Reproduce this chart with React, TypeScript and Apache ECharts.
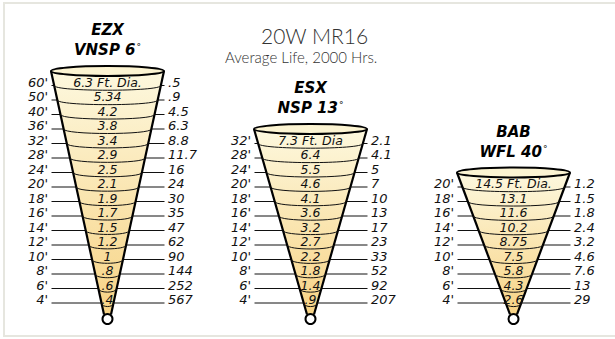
import React, { useEffect, useRef } from "react";
import * as echarts from "echarts";

// ---- data ----
const lampCodes = ["EZX", "ESX", "BAB"];
const beamTypes = ["VNSP", "NSP", "WFL"];
const beamAngles = [6, 13, 40];

const ezxDistance = [60, 50, 40, 36, 32, 28, 24, 20, 18, 16, 14, 12, 10, 8, 6, 4];
const ezxDiameter = [6.3, 5.34, 4.2, 3.8, 3.4, 2.9, 2.5, 2.1, 1.9, 1.7, 1.5, 1.2, 1, 0.8, 0.6, 0.4];
const ezxFootcandles = [0.5, 0.9, 4.5, 6.3, 8.8, 11.7, 16, 24, 30, 35, 47, 62, 90, 144, 252, 567];

const esxDistance = [32, 28, 24, 20, 18, 16, 14, 12, 10, 8, 6, 4];
const esxDiameter = [7.3, 6.4, 5.5, 4.6, 4.1, 3.6, 3.2, 2.7, 2.2, 1.8, 1.4, 0.9];
const esxFootcandles = [2.1, 4.1, 5, 7, 10, 13, 17, 23, 33, 52, 92, 207];

const babDistance = [20, 18, 16, 14, 12, 10, 8, 6, 4];
const babDiameter = [14.5, 13.1, 11.6, 10.2, 8.75, 7.5, 5.8, 4.3, 2.6];
const babFootcandles = [1.2, 1.5, 1.8, 2.4, 3.2, 4.6, 7.6, 13, 29];

const topSuffix = [" Ft. Dia.", " Ft. Dia", " Ft. Dia."];
const mainTitle = "20W MR16";
const subTitle = "Average Life, 2000 Hrs.";

// ---- derived tables ----
const coneSets = [
  { dist: ezxDistance, diam: ezxDiameter, fc: ezxFootcandles },
  { dist: esxDistance, diam: esxDiameter, fc: esxFootcandles },
  { dist: babDistance, diam: babDiameter, fc: babFootcandles },
];

type Meta = { dist: number; diam: number; fc: number; top: boolean; cone: number };
const rowData: number[][] = [];
const rowMeta: Meta[] = [];
coneSets.forEach((s, c) => {
  const n = s.dist.length;
  s.dist.forEach((d, i) => {
    rowData.push([c, n - 1 - i, n]);
    rowMeta.push({ dist: d, diam: s.diam[i], fc: s.fc[i], top: i === 0, cone: c });
  });
});
const coneData = coneSets.map((s, c) => [c, s.dist.length]);

const fmt = (v: number) => (v < 1 ? String(v).replace(/^0/, "") : String(v));

// ---- geometry / style ----
const TOP_HW = 56.5;
const BOT_HW = 3.5;
const TIP_ROW = -1.1;
const TIP_R = 5;
const SIDE_FONT = 'italic 13px "DejaVu Sans"';
const MID_FONT = 'italic 12.5px "DejaVu Sans"';
const INK = "#111";

function geom(api: any, c: number, n: number) {
  const [cx, yTop] = api.coord([c, n]);
  const yTip = api.coord([c, TIP_ROW])[1];
  const yB = yTip - TIP_R + 0.5;
  const hw = (y: number) => BOT_HW + ((TOP_HW - BOT_HW) * (yB - y)) / (yB - yTop);
  return { cx, yTop, yTip, yB, hw };
}

export default function App() {
  const ref = useRef<HTMLDivElement>(null);
  useEffect(() => {
    const chart = echarts.init(ref.current!, null, { renderer: "svg" });
    const option: any = {
      animation: false,
      backgroundColor: "#fff",
      grid: { left: 6, right: 0, top: 56.5, bottom: 7 },
      xAxis: { type: "category", data: lampCodes, show: false },
      yAxis: { type: "value", min: -2, max: 17, show: false },
      graphic: [
        {
          type: "rect",
          shape: { x: 4, y: 3, width: 620, height: 333 },
          style: { fill: "none", stroke: "#e6e6df", lineWidth: 2 },
          silent: true,
        },
        {
          type: "text",
          x: 261,
          y: 35,
          style: { text: mainTitle, font: '300 21px "Lato"', fill: "#333", align: "left", verticalAlign: "middle" },
        },
        {
          type: "text",
          x: 225,
          y: 57,
          style: { text: subTitle, font: '300 15px "Lato"', fill: "#333", align: "left", verticalAlign: "middle" },
        },
      ],
      series: [
        {
          type: "custom",
          name: "distance",
          z: 1,
          data: rowData,
          encode: { x: 0, y: 1 },
          renderItem: (params: any, api: any) => {
            const c = api.value(0), r = api.value(1), n = api.value(2);
            const m = rowMeta[params.dataIndex];
            const { cx } = geom(api, c, n);
            const y = api.coord([c, r])[1];
            return {
              type: "group",
              children: [
                { type: "line", shape: { x1: cx - 56, y1: y, x2: cx + 57, y2: y }, style: { stroke: INK, lineWidth: 1 } },
                { type: "text", x: cx - 59.5, y: y - 3.5, style: { text: `${m.dist}'`, font: SIDE_FONT, fill: INK, align: "right", verticalAlign: "middle" } },
                { type: "text", x: cx + 60.5, y: y - 3.5, style: { text: fmt(m.fc), font: SIDE_FONT, fill: INK, align: "left", verticalAlign: "middle" } },
              ],
            };
          },
        },
        {
          type: "custom",
          name: "beam",
          z: 2,
          data: coneData,
          encode: { x: 0, y: 1 },
          renderItem: (params: any, api: any) => {
            const c = api.value(0), n = api.value(1);
            const { cx, yTop, yTip, yB } = geom(api, c, n);
            const rx = TOP_HW, ry = 5;
            const ell = `M${cx - rx} ${yTop} A${rx} ${ry} 0 1 0 ${cx + rx} ${yTop} A${rx} ${ry} 0 1 0 ${cx - rx} ${yTop} Z`;
            return {
              type: "group",
              children: [
                {
                  type: "polygon",
                  shape: { points: [[cx - TOP_HW, yTop], [cx + TOP_HW, yTop], [cx + BOT_HW, yB], [cx - BOT_HW, yB]] },
                  style: {
                    fill: new echarts.graphic.LinearGradient(0, 0, 0, 1, [
                      { offset: 0, color: "#fdf8de" },
                      { offset: 1, color: "#f7d385" },
                    ]),
                  },
                },
                { type: "polyline", shape: { points: [[cx - TOP_HW, yTop], [cx - BOT_HW, yB]] }, style: { stroke: "#000", lineWidth: 2.2, fill: "none" } },
                { type: "polyline", shape: { points: [[cx + TOP_HW, yTop], [cx + BOT_HW, yB]] }, style: { stroke: "#000", lineWidth: 2.2, fill: "none" } },
                { type: "path", shape: { pathData: ell }, style: { fill: "#fcf4d2", stroke: "#000", lineWidth: 2 } },
                { type: "circle", shape: { cx, cy: yTip, r: TIP_R }, style: { fill: "#fff", stroke: "#000", lineWidth: 2 } },
                {
                  type: "text", x: cx, y: yTop - 41,
                  style: { text: lampCodes[c], font: 'italic bold 15px "DejaVu Sans"', fill: "#000", align: "center", verticalAlign: "middle" },
                },
                {
                  type: "text", x: cx, y: yTop - 21,
                  style: {
                    text: `{b|${beamTypes[c]} ${beamAngles[c]}}{d|°}`,
                    align: "center", verticalAlign: "middle",
                    rich: {
                      b: { font: 'italic bold 15px "DejaVu Sans"', fill: "#000", color: "#000" },
                      d: { font: '9px "DejaVu Sans"', fill: "#000", color: "#000", verticalAlign: "top", padding: [0, 0, 0, 1] },
                    },
                  },
                },
              ],
            };
          },
        },
        {
          type: "custom",
          name: "diameter",
          z: 3,
          data: rowData,
          encode: { x: 0, y: 1 },
          renderItem: (params: any, api: any) => {
            const c = api.value(0), r = api.value(1), n = api.value(2);
            const m = rowMeta[params.dataIndex];
            const { cx, hw } = geom(api, c, n);
            const y = api.coord([c, r])[1];
            const h = hw(y);
            const dip = 3.4 + 0.025 * h;
            const k = (4 / 3) * dip;
            return {
              type: "group",
              children: [
                {
                  type: "bezierCurve",
                  shape: { x1: cx - h, y1: y, x2: cx + h, y2: y, cpx1: cx - h, cpy1: y + k, cpx2: cx + h, cpy2: y + k },
                  style: { stroke: INK, lineWidth: 1, fill: "none" },
                },
                {
                  type: "text", x: cx, y: y - 3.5,
                  style: { text: fmt(m.diam) + (m.top ? topSuffix[m.cone] : ""), font: MID_FONT, fill: INK, align: "center", verticalAlign: "middle" },
                },
              ],
            };
          },
        },
      ],
    };
    chart.setOption(option);
    return () => chart.dispose();
  }, []);
  return <div ref={ref} style={{ position: "absolute", left: 0, top: 0, width: 615, height: 339, background: "#fff" }} />;
}
